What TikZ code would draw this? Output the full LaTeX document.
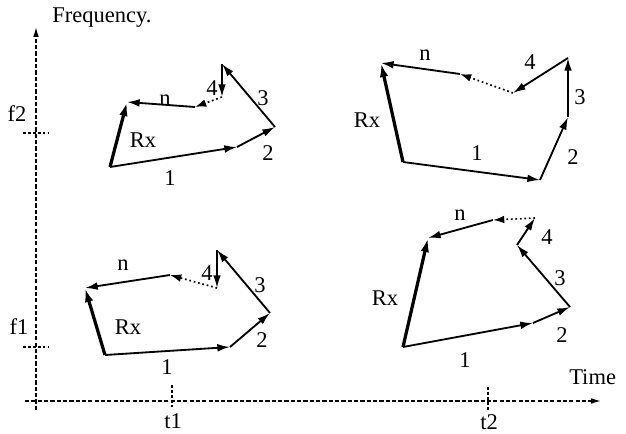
\documentclass[tikz,border=0pt]{standalone}
\usepackage{fontspec}
\setmainfont{Liberation Serif}
\usetikzlibrary{arrows.meta}

\begin{document}
\begin{tikzpicture}[x=0.025cm, y=-0.025cm,
  every node/.style={font=\fontsize{16}{18}\selectfont, inner sep=0pt},
  vec/.style={line width=1.3pt, -{Latex[length=9pt,width=5.5pt]}},
  rxvec/.style={line width=2.3pt, -{Latex[length=10pt,width=6pt]}},
  dots/.style={dotted, line width=1.2pt, -{Latex[length=8pt,width=5.5pt]}},
  axis/.style={dashed, dash pattern=on 3pt off 1.5pt, line width=0.9pt},
  tick/.style={dashed, dash pattern=on 2pt off 1.5pt, line width=0.9pt}]
\useasboundingbox (0,0) rectangle (626,434);

% axes
\coordinate (o1) at (36,410);
\coordinate (ytop) at (36,27);
\coordinate (o2) at (25,401);
\coordinate (xend) at (601,401);
\draw[axis, -{Latex[length=7pt,width=4pt]}] (o1) -- (ytop);
\draw[axis, -{Latex[length=7pt,width=4pt]}] (o2) -- (xend);
\node[anchor=west] (freq) at (52,18) {Frequency.};
\node[anchor=west] (time) at (569,377) {Time};
\draw[tick] (23,133) -- (48,133);
\draw[tick] (23,347) -- (48,347);
\draw[tick] (172,385) -- (172,407);
\draw[tick] (488,387) -- (488,410);
\node (f2) at (17,114) {f2};
\node (f1) at (19,327) {f1};
\node (t1) at (173,421) {t1};
\node (t2) at (489,422) {t2};

% f2, t1
\coordinate (p1a) at (110,167);
\coordinate (p1b) at (127,102);
\coordinate (p1c) at (237,147);
\coordinate (p1d) at (275,127);
\coordinate (p1e) at (222,64);
\coordinate (p1f) at (222,97);
\coordinate (p1g) at (195,107);
\draw[rxvec] (p1a) -- (p1b);
\draw[vec] (p1a) -- (p1c);
\draw[vec] (p1c) -- (p1d);
\draw[vec] (p1d) -- (p1e);
\draw[vec] (p1e) -- (p1f);
\draw[dots] (p1f) -- (p1g);
\draw[vec] (p1g) -- (p1b);
\node (p1l1) at (170,178) {1};
\node (p1l2) at (268,153) {2};
\node (p1l3) at (263,98) {3};
\node (p1l4) at (212,88) {4};
\node (p1ln) at (165,100) {n};
\node (p1rx) at (143,140) {Rx};

% f2, t2
\coordinate (p2a) at (403,162);
\coordinate (p2b) at (381,63);
\coordinate (p2c) at (540,180);
\coordinate (p2d) at (568,117);
\coordinate (p2e) at (568,58);
\coordinate (p2f) at (513,93);
\coordinate (p2g) at (460,74);
\draw[rxvec] (p2a) -- (p2b);
\draw[vec] (p2a) -- (p2c);
\draw[vec] (p2c) -- (p2d);
\draw[vec] (p2d) -- (p2e);
\draw[vec] (p2e) -- (p2f);
\draw[dots] (p2f) -- (p2g);
\draw[vec] (p2g) -- (p2b);
\node (p2l1) at (477,153) {1};
\node (p2l2) at (573,157) {2};
\node (p2l3) at (580,97) {3};
\node (p2l4) at (530,62) {4};
\node (p2ln) at (425,55) {n};
\node (p2rx) at (367,120) {Rx};

% f1, t1
\coordinate (p3a) at (105,355);
\coordinate (p3b) at (85,288);
\coordinate (p3c) at (230,347);
\coordinate (p3d) at (270,313);
\coordinate (p3e) at (217,250);
\coordinate (p3f) at (217,288);
\coordinate (p3g) at (170,275);
\draw[rxvec] (p3a) -- (p3b);
\draw[vec] (p3a) -- (p3c);
\draw[vec] (p3c) -- (p3d);
\draw[vec] (p3d) -- (p3e);
\draw[vec] (p3e) -- (p3f);
\draw[dots] (p3f) -- (p3g);
\draw[vec] (p3g) -- (p3b);
\node (p3l1) at (167,367) {1};
\node (p3l2) at (262,340) {2};
\node (p3l3) at (260,285) {3};
\node (p3l4) at (207,273) {4};
\node (p3ln) at (123,265) {n};
\node (p3rx) at (128,327) {Rx};

% f1, t2
\coordinate (p4a) at (403,347);
\coordinate (p4b) at (428,238);
\coordinate (p4c) at (533,323);
\coordinate (p4d) at (570,307);
\coordinate (p4e) at (517,245);
\coordinate (p4f) at (535,218);
\coordinate (p4g) at (493,220);
\draw[rxvec] (p4a) -- (p4b);
\draw[vec] (p4a) -- (p4c);
\draw[vec] (p4c) -- (p4d);
\draw[vec] (p4d) -- (p4e);
\draw[vec] (p4e) -- (p4f);
\draw[dots] (p4f) -- (p4g);
\draw[vec] (p4g) -- (p4b);
\node (p4l1) at (465,360) {1};
\node (p4l2) at (562,335) {2};
\node (p4l3) at (560,278) {3};
\node (p4l4) at (547,237) {4};
\node (p4ln) at (460,215) {n};
\node (p4rx) at (385,298) {Rx};
\end{tikzpicture}
\end{document}
